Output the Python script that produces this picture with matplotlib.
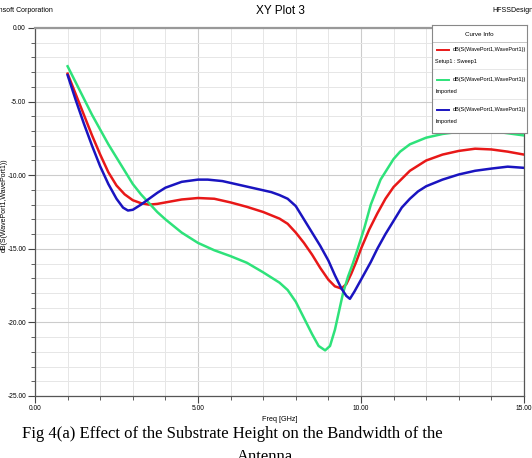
import matplotlib
matplotlib.use("Agg")
from matplotlib import pyplot as plt
from matplotlib.ticker import MultipleLocator, FormatStrFormatter

# values (Freq in GHz, S11 in dB)
freq_red = [1.0, 1.25, 1.5, 1.75, 2.0, 2.25, 2.5, 2.75, 3.0, 3.25, 3.5, 3.75, 4.0, 4.5,
            5.0, 5.5, 6.0, 6.5, 7.0, 7.5, 7.75, 8.0, 8.25, 8.5, 8.75, 9.0, 9.2, 9.4,
            9.55, 9.7, 9.85, 10.0, 10.25, 10.5, 10.75, 11.0, 11.5, 12.0, 12.5, 13.0,
            13.5, 14.0, 14.5, 15.0]
s11_red = [-3.1, -4.5, -5.9, -7.3, -8.6, -9.8, -10.7, -11.3, -11.7, -11.9, -12.0, -11.95,
           -11.85, -11.65, -11.55, -11.6, -11.85, -12.15, -12.5, -12.95, -13.3, -13.9,
           -14.6, -15.4, -16.3, -17.1, -17.55, -17.7, -17.4, -16.7, -15.9, -15.0, -13.7,
           -12.6, -11.6, -10.8, -9.7, -9.0, -8.6, -8.35, -8.2, -8.25, -8.4, -8.6]

freq_green = [1.0, 1.25, 1.5, 1.75, 2.0, 2.25, 2.5, 2.75, 3.0, 3.25, 3.5, 3.75, 4.0, 4.25,
              4.5, 4.75, 5.0, 5.5, 6.0, 6.5, 7.0, 7.5, 7.75, 8.0, 8.25, 8.5, 8.7, 8.9,
              9.05, 9.2, 9.35, 9.45, 9.6, 9.75, 9.9, 10.1, 10.3, 10.6, 11.0, 11.2, 11.5,
              12.0, 12.5, 13.0, 13.5, 14.0, 14.5, 15.0]
s11_green = [-2.6, -3.7, -4.8, -5.9, -6.9, -7.9, -8.8, -9.7, -10.6, -11.3, -11.9, -12.5,
             -13.0, -13.45, -13.9, -14.25, -14.6, -15.1, -15.5, -15.95, -16.6, -17.3,
             -17.8, -18.6, -19.7, -20.8, -21.6, -21.9, -21.6, -20.5, -19.0, -18.0, -16.9,
             -16.0, -15.0, -13.6, -12.0, -10.3, -8.9, -8.4, -7.9, -7.45, -7.2, -7.05,
             -6.95, -7.0, -7.15, -7.3]

freq_blue = [1.0, 1.25, 1.5, 1.75, 2.0, 2.25, 2.5, 2.7, 2.85, 3.0, 3.25, 3.5, 3.75, 4.0,
             4.5, 5.0, 5.3, 5.75, 6.25, 6.75, 7.25, 7.5, 7.75, 8.0, 8.25, 8.5, 8.75, 9.0,
             9.2, 9.4, 9.55, 9.66, 9.8, 9.95, 10.1, 10.3, 10.5, 10.75, 11.0, 11.25, 11.5,
             11.75, 12.0, 12.5, 13.0, 13.5, 14.0, 14.5, 15.0]
s11_blue = [-3.2, -4.9, -6.5, -8.0, -9.4, -10.6, -11.6, -12.2, -12.4, -12.35, -12.0, -11.6,
            -11.2, -10.85, -10.45, -10.3, -10.3, -10.4, -10.65, -10.9, -11.15, -11.35,
            -11.6, -12.1, -13.0, -13.9, -14.8, -15.8, -16.8, -17.7, -18.2, -18.4, -17.9,
            -17.3, -16.7, -15.9, -15.0, -14.0, -13.1, -12.2, -11.6, -11.1, -10.75, -10.3,
            -9.95, -9.7, -9.55, -9.42, -9.5]

W, H = 532, 458
fig = plt.figure(figsize=(W / 100, H / 100), dpi=100)
narrow = ["Liberation Sans Narrow", "Liberation Sans", "DejaVu Sans"]

# plot area in pixels: x 35..524, y 28..396
ax = fig.add_axes([35 / W, 1 - 396 / H, (524 - 35) / W, (396 - 28) / H])
ax.plot(freq_red, s11_red, color="#e81818", lw=1.8, zorder=3)
ax.plot(freq_green, s11_green, color="#2ee27a", lw=1.8, zorder=3)
ax.plot(freq_blue, s11_blue, color="#1a14c0", lw=1.8, zorder=3)

ax.set_xlim(0, 15)
ax.set_ylim(-25, 0)
ax.xaxis.set_major_locator(MultipleLocator(5))
ax.xaxis.set_minor_locator(MultipleLocator(1))
ax.yaxis.set_major_locator(MultipleLocator(5))
ax.yaxis.set_minor_locator(MultipleLocator(1))
ax.xaxis.set_major_formatter(FormatStrFormatter("%.2f"))
ax.yaxis.set_major_formatter(FormatStrFormatter("%.2f"))
ax.grid(which="minor", color="#e6e6e6", lw=0.7)
ax.grid(which="major", color="#cccccc", lw=0.8)
ax.tick_params(which="major", direction="out", length=5, width=0.8, color="#444444",
               labelsize=4.8, pad=1.5)
ax.tick_params(which="minor", direction="out", length=3, width=0.6, color="#444444")
for lab in ax.get_xticklabels() + ax.get_yticklabels():
    lab.set_family(narrow)
for side in ["left", "bottom", "right"]:
    ax.spines[side].set_color("#555555")
    ax.spines[side].set_linewidth(0.9)
ax.spines["top"].set_color("#999999")
ax.spines["top"].set_linewidth(1.6)

ax.set_xlabel("Freq [GHz]", fontsize=5.2, family=narrow, labelpad=3)
fig.text(4 / W, 1 - 205 / H, "dB(S(WavePort1,WavePort1))", rotation=90, fontsize=5,
         family=narrow, ha="center", va="center")

# header texts
fig.text(280 / W, 1 - 11 / H, "XY Plot 3", fontsize=8.5, family=narrow, ha="center", va="center")
fig.text(-6 / W, 1 - 10 / H, "Ansoft Corporation", fontsize=5, family=narrow, ha="left", va="center")
fig.text(492 / W, 1 - 10 / H, "HFSSDesign1", fontsize=5, family=narrow, ha="left", va="center")

# curve info box
leg = fig.add_axes([432 / W, 1 - 133 / H, 95 / W, 108 / H])
leg.set_xlim(0, 95)
leg.set_ylim(108, 0)
leg.set_xticks([])
leg.set_yticks([])
for s in leg.spines.values():
    s.set_color("#888888")
    s.set_linewidth(0.8)
leg.axhline(17, color="#bbbbbb", lw=0.6)
leg.text(47.5, 9, "Curve Info", fontsize=4.5, family=narrow, ha="center", va="center")
names = ["dB(S(WavePort1,WavePort1))"] * 3
subs = ["Setup1 : Sweep1", "Imported", "Imported"]
cols = ["#e81818", "#2ee27a", "#1a14c0"]
rows = [25, 55, 85]
for nm, sb, c, r in zip(names, subs, cols, rows):
    leg.plot([5, 17], [r, r], color=c, lw=1.4)
    leg.text(21, r, nm, fontsize=4, family=narrow, va="center")
    leg.text(3, r + 11, sb, fontsize=4, family=narrow, va="center")
for r in [44, 74]:
    leg.axhline(r, color="#dddddd", lw=0.5)

# caption
fig.text(22 / W, 1 - 434 / H, "Fig 4(a) Effect of the Substrate Height on the Bandwidth of the",
         fontsize=12, family="Liberation Serif", ha="left", va="center")
fig.text(265 / W, 1 - 457 / H, "Antenna", fontsize=12, family="Liberation Serif",
         ha="center", va="center")

fig.savefig("out.png", dpi=100)
